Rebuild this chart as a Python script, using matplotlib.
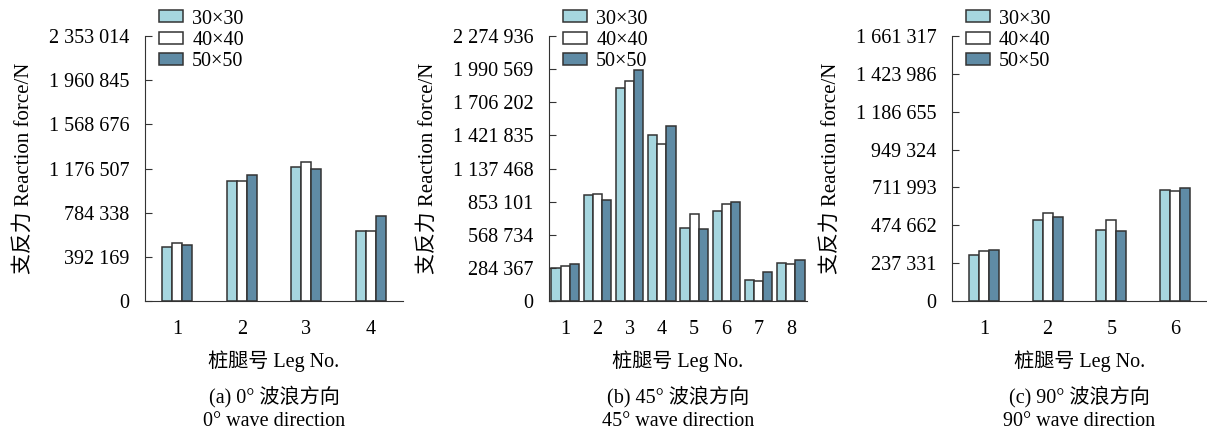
import numpy as np
import matplotlib
matplotlib.use('Agg')
import matplotlib.pyplot as plt

plt.rcParams['font.family'] = ['Liberation Serif', 'Noto Sans CJK SC']
plt.rcParams['font.size'] = 14.5

series_names = ['30×30', '40×40', '50×50']
colors = ['#a6d6df', '#ffffff', '#5f8ba5']

# (a) 0 degree
legs_a = ['1', '2', '3', '4']
a_30 = [476000, 1069000, 1187000, 619000]
a_40 = [512000, 1069000, 1237000, 619000]
a_50 = [497000, 1119000, 1172000, 758000]
ticks_a = [0, 392169, 784338, 1176507, 1568676, 1960845, 2353014]

# (b) 45 degree
legs_b = ['1', '2', '3', '4', '5', '6', '7', '8']
b_30 = [280000, 907000, 1831000, 1422000, 630000, 775000, 183000, 323000]
b_40 = [300000, 916000, 1891000, 1351000, 744000, 833000, 172000, 318000]
b_50 = [315000, 867000, 1986000, 1502000, 618000, 847000, 252000, 349000]
ticks_b = [0, 284367, 568734, 853101, 1137468, 1421835, 1706202, 1990569,
           2274936]

# (c) 90 degree
legs_c = ['1', '2', '5', '6']
c_30 = [291000, 505000, 444000, 698000]
c_40 = [314000, 549000, 507000, 689000]
c_50 = [318000, 528000, 438000, 710000]
ticks_c = [0, 237331, 474662, 711993, 949324, 1186655, 1423986, 1661317]

captions = [('(a) 0° 波浪方向', '0° wave direction'),
            ('(b) 45° 波浪方向', '45° wave direction'),
            ('(c) 90° 波浪方向', '90° wave direction')]


def fmt(v):
    return '{:,}'.format(v).replace(',', ' ')


def draw_panel(fig, rect, legs, values, ticks, bar_w, caption):
    ax = fig.add_axes(rect)
    x = np.arange(1, len(legs) + 1)
    for i, (vals, col) in enumerate(zip(values, colors)):
        ax.bar(x + (i - 1) * bar_w, vals, width=bar_w, color=col,
               edgecolor='#333333', linewidth=1.1, label=series_names[i])
    ax.set_xlim(0.5, len(legs) + 0.5)
    ax.set_ylim(0, ticks[-1])
    ax.set_yticks(ticks)
    ax.set_yticklabels([fmt(t) for t in ticks])
    ax.set_xticks(x)
    ax.set_xticklabels(legs)
    ax.spines['top'].set_visible(False)
    ax.spines['right'].set_visible(False)
    ax.spines['left'].set_color('#333333')
    ax.spines['bottom'].set_color('#333333')
    ax.tick_params(axis='y', direction='in', length=5, pad=11,
                   color='#333333')
    ax.tick_params(axis='x', length=0, pad=14)
    ax.set_ylabel('支反力 Reaction force/N', fontsize=15, labelpad=11)
    ax.set_xlabel('桩腿号 Leg No.', labelpad=8)
    ax.legend(loc='upper left', bbox_to_anchor=(0.054, 1.10),
              frameon=False, handlelength=1.2, handleheight=0.52,
              handletextpad=0.45, labelspacing=0.12, borderaxespad=0,
              borderpad=0)
    cx = rect[0] + rect[2] / 2
    fig.text(cx, 1 - 397 / 437, caption[0], ha='center', va='center')
    fig.text(cx, 1 - 422 / 437, caption[1], ha='center', va='center')
    return ax


fig = plt.figure(figsize=(12.07, 4.37), dpi=100)
bottom = 1 - 301 / 437
height = (301 - 36) / 437
w = 258 / 1207
draw_panel(fig, [145 / 1207, bottom, w, height], legs_a,
           [a_30, a_40, a_50], ticks_a, 0.156, captions[0])
draw_panel(fig, [549 / 1207, bottom, w, height], legs_b,
           [b_30, b_40, b_50], ticks_b, 0.285, captions[1])
draw_panel(fig, [952 / 1207, bottom, 255 / 1207, height], legs_c,
           [c_30, c_40, c_50], ticks_c, 0.156, captions[2])
fig.savefig('out.png', dpi=100)
